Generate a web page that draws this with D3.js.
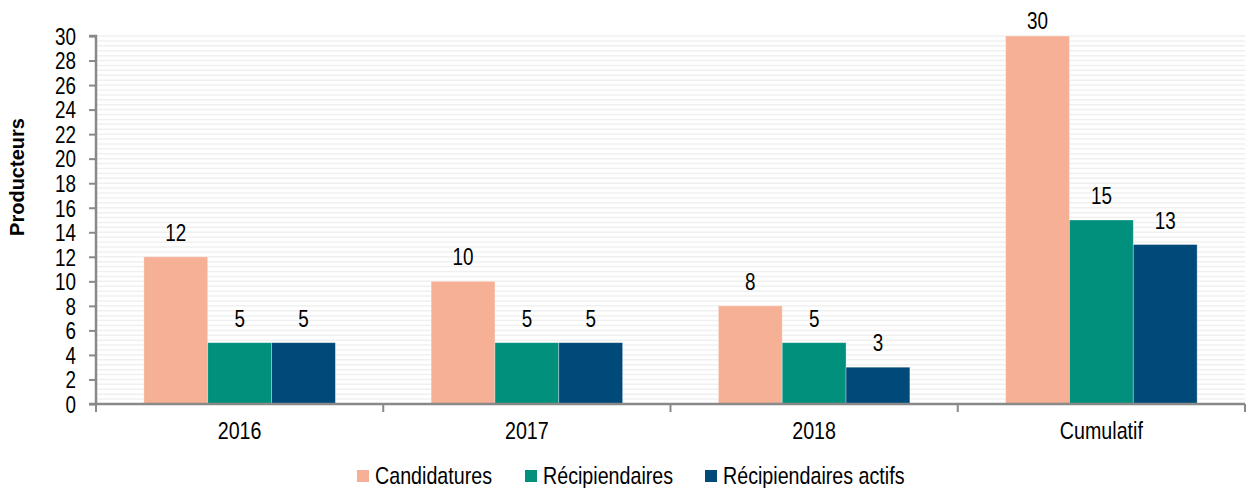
<!DOCTYPE html>
<html>
<head>
<meta charset="utf-8">
<script src="https://cdn.jsdelivr.net/npm/d3@7"></script>
<style>
  body { margin: 0; background: #fff; }
  svg text { font-family: "Liberation Sans", Arial, sans-serif; }
</style>
</head>
<body>
<svg id="chart" width="1247" height="488"></svg>
<script>
// categories and series
const categories = ["2016", "2017", "2018", "Cumulatif"];
const seriesNames = ["Candidatures", "Récipiendaires", "Récipiendaires actifs"];
const candidatures = [12, 10, 8, 30];
const recipiendaires = [5, 5, 5, 15];
const actifs = [5, 5, 3, 13];
const yTicks = d3.range(0, 31, 2);

const colours = ["#f5b096", "#00907c", "#004a7a"];
const seriesValues = [candidatures, recipiendaires, actifs];

const svg = d3.select("#chart");
const margin = {left: 96, right: 2, top: 36, bottom: 84};
const W = 1247, H = 488;
const NARROW = 0.82; // squeeze text to look like a narrow face

// put a narrow text at x,y
function narrow(sel, x, y){
        return sel.attr("transform", `translate(${x},${y}) scale(${NARROW},1)`);
}

const x = d3.scaleBand()
        .domain(categories)
        .range([margin.left, W - margin.right])
        .paddingInner(0)
        .paddingOuter(0);

const xInner = d3.scaleBand()
        .domain(seriesNames)
        .range([0, x.bandwidth()])
        .paddingInner(0)
        .paddingOuter(0.75);

const y = d3.scaleLinear()
        .domain([0, 30])
        .range([H - margin.bottom, margin.top]);

// faint background lines
svg.append("g")
        .selectAll("line")
        .data(d3.range(0.4, 30.01, 0.4))
        .join("line")
        .attr("x1", margin.left)
        .attr("x2", W - margin.right)
        .attr("y1", d => y(d))
        .attr("y2", d => y(d))
        .attr("stroke", "#f0f0f0")
        .attr("stroke-width", 1.5);

// bars
const groups = svg.append("g")
        .selectAll("g")
        .data(categories)
        .join("g")
        .attr("transform", d => `translate(${x(d)},0)`);

const cells = (c, i) => seriesNames.map((s, j) => ({s: s, j: j, v: seriesValues[j][i]}));

groups.selectAll("rect")
        .data(cells)
        .join("rect")
        .attr("x", d => xInner(d.s))
        .attr("width", xInner.bandwidth())
        .attr("y", d => y(d.v))
        .attr("height", d => y(0) - y(d.v))
        .attr("fill", d => colours[d.j])
        .attr("stroke", "#ffffff")
        .attr("stroke-opacity", 0.4)
        .attr("stroke-width", 0.8);

// labels sit above the bars, but stay inside the top of the svg
groups.selectAll("text.val")
        .data(cells)
        .join("text")
        .attr("class", "val")
        .each(function(d){
                narrow(d3.select(this), xInner(d.s) + xInner.bandwidth() / 2, Math.max(y(d.v) - 16, 29));
        })
        .attr("text-anchor", "middle")
        .attr("font-size", "23px")
        .attr("fill", "#000")
        .text(d => d.v);

// y axis
const yAxis = svg.append("g")
        .attr("transform", `translate(${margin.left},0)`)
        .call(d3.axisLeft(y).tickValues(yTicks).tickSize(7).tickPadding(6));
yAxis.selectAll("text")
        .attr("font-size", "23px").attr("fill", "#000").attr("dy", "0.36em")
        .attr("x", null)
        .attr("transform", `translate(-20,0) scale(${NARROW},1)`);
yAxis.selectAll("line").attr("stroke", "#898989").attr("stroke-width", 2);
yAxis.select(".domain").attr("stroke", "#898989").attr("stroke-width", 2.5)
        .attr("d", `M-7,${y(30)}H0V${y(0)}`);

// x axis
const xAxis = svg.append("g")
        .attr("transform", `translate(0,${y(0)})`);
xAxis.append("line")
        .attr("x1", margin.left - 7)
        .attr("x2", W - margin.right)
        .attr("stroke", "#898989")
        .attr("stroke-width", 2.5);
xAxis.selectAll("line.tick")
        .data(categories.map(c => x(c)).concat([W - margin.right]))
        .join("line")
        .attr("class", "tick")
        .attr("x1", d => d).attr("x2", d => d)
        .attr("y1", 0).attr("y2", 8)
        .attr("stroke", "#898989")
        .attr("stroke-width", 2);
xAxis.selectAll("text")
        .data(categories)
        .join("text")
        .each(function(d){
                narrow(d3.select(this), x(d) + x.bandwidth() / 2, 35);
        })
        .attr("text-anchor", "middle")
        .attr("font-size", "24px")
        .attr("fill", "#000")
        .text(d => d);

// y axis title
svg.append("text")
        .attr("transform", "translate(24,177) rotate(-90)")
        .attr("text-anchor", "middle")
        .attr("font-size", "20px")
        .attr("font-weight", "bold")
        .text("Producteurs");

// legend
const legendX = [357, 525, 705];
const legend = svg.append("g").attr("transform", "translate(0,476)");
seriesNames.forEach((s, j) => {
        legend.append("rect")
                .attr("x", legendX[j])
                .attr("y", -6)
                .attr("width", 12)
                .attr("height", 12)
                .attr("fill", colours[j]);
        narrow(legend.append("text"), legendX[j] + 18, 8)
                .attr("font-size", "24px")
                .attr("fill", "#000")
                .text(s);
});
</script>
</body>
</html>
